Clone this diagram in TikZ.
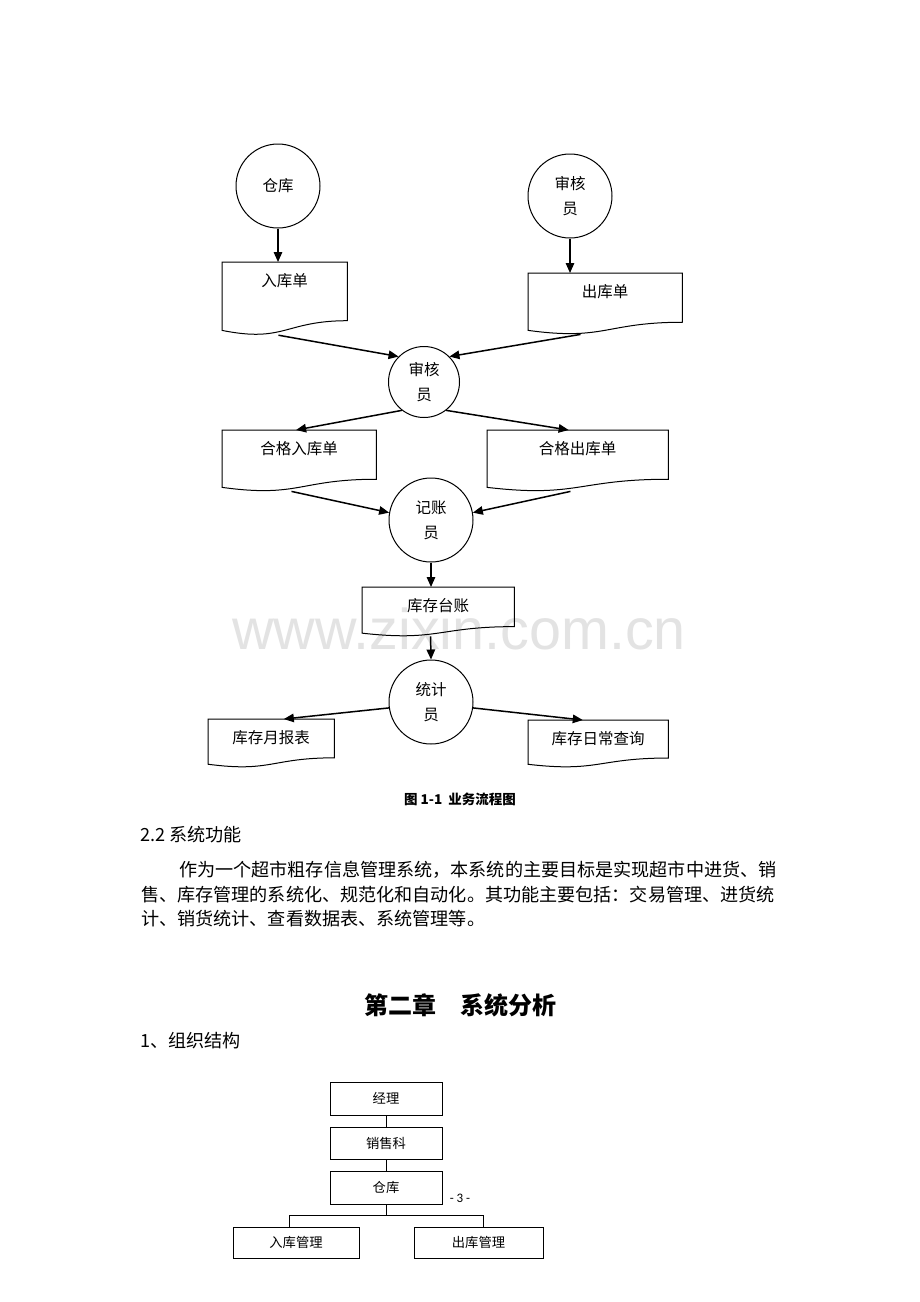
\documentclass[tikz,border=0pt]{standalone}
\usepackage{fontspec}
\newfontfamily\cjk{Noto Sans CJK SC}
\newfontfamily\wmfont{Liberation Sans}
\newfontfamily\pgfont{Carlito}
\usetikzlibrary{calc,arrows.meta}
\tikzset{
  lbl/.style={font=\cjk\fontsize{15.5}{18}\selectfont, inner sep=0pt},
  circ/.style={circle, draw, line width=1pt, minimum size=84pt, inner sep=0pt, align=center, font=\cjk\fontsize{15.5}{25}\selectfont},
  docnode/.style={rectangle, draw=none, inner sep=0pt, anchor=north west},
  docline/.style={line width=1pt},
  arr/.style={line width=1.5pt, -{Triangle[length=10pt,width=8.5pt]}},
  orgbox/.style={rectangle, draw, line width=1pt, inner sep=0pt, font=\cjk\fontsize{13.3}{15}\selectfont},
  orgline/.style={line width=1pt},
  bodytext/.style={font=\cjk\fontsize{18.1}{22}\selectfont, inner sep=0pt, anchor=west},
}
\newcommand{\docshape}[2]{%
  \draw[docline] (#1.north west) -- (#1.north east) -- ($(#1.north east)!0.802!(#1.south east)$)
    .. controls ($(#1.north)!0.802!(#1.south)$) and ($(#1.north)!1.1075!(#1.south)$) ..
    ($(#1.north west)!0.934!(#1.south west)$) -- cycle;
  \node[lbl] (#1-t) at ($(#1.north)+(0,19)$) {#2};
}
\begin{document}
\begin{tikzpicture}[x=1pt,y=-1pt]
\useasboundingbox[fill=white] (0,0) rectangle (920,1302);

% watermark
\node[font=\wmfont\fontsize{57.5}{60}\selectfont, text=black!11, inner sep=0pt, anchor=base] (wm) at (459,649) {www.zixin.com.cn};

% circles
\node[circ] (ck) at (278,186) {仓库};
\node[circ] (shy1) at (570,196) {审核\\员};
\node[circ, minimum size=71pt] (shy2) at (424,382) {审核\\员};
\node[circ] (jzy) at (431,520) {记账\\员};
\node[circ] (tjy) at (431,702) {统计\\员};

% document boxes
\node[docnode, minimum width=125pt, minimum height=72.8pt] (rkd) at (222,262) {};
\node[docnode, minimum width=154pt, minimum height=61pt] (ckd) at (528,273) {};
\node[docnode, minimum width=154pt, minimum height=61pt] (hgr) at (222,430) {};
\node[docnode, minimum width=181pt, minimum height=61pt] (hgc) at (487,430) {};
\node[docnode, minimum width=152pt, minimum height=49pt] (kctz) at (362,587) {};
\node[docnode, minimum width=126pt, minimum height=48pt] (kyb) at (208,719) {};
\node[docnode, minimum width=140pt, minimum height=47pt] (kcr) at (528,720) {};

\docshape{rkd}{入库单}
\docshape{ckd}{出库单}
\docshape{hgr}{合格入库单}
\docshape{hgc}{合格出库单}
\docshape{kctz}{库存台账}
\docshape{kyb}{库存月报表}
\docshape{kcr}{库存日常查询}

% arrows
\draw[arr] (ck.south) -- (ck.south |- rkd.north);
\draw[arr] (shy1.south) -- (shy1.south |- ckd.north);
\draw[arr] ($(rkd.south west)!0.45!(rkd.south east)$) -- (shy2.135);
\draw[arr] ($(ckd.south west)!0.34!(ckd.south east)$) -- (shy2.45);
\draw[arr] (shy2.232) -- ($(hgr.north west)!0.48!(hgr.north east)$);
\draw[arr] (shy2.308) -- ($(hgc.north west)!0.45!(hgc.north east)$);
\draw[arr] ($(hgr.south west)!0.45!(hgr.south east)$) -- (jzy.170);
\draw[arr] ($(hgc.south west)!0.46!(hgc.south east)$) -- (jzy.10);
\draw[arr] (jzy.south) -- (jzy.south |- kctz.north);
\draw[arr] ($(kctz.south west)!0.45!(kctz.south east)$) -- (tjy.north);
\draw[arr] (tjy.188) -- ($(kyb.north west)!0.6!(kyb.north east)$);
\draw[arr] (tjy.352) -- ($(kcr.north west)!0.39!(kcr.north east)$);

% caption
\node[font=\cjk\bfseries\fontsize{13.5}{15}\selectfont, inner sep=0pt] (cap) at (460,799) {图 1-1\ \ 业务流程图};

% section text
\node[bodytext] (sec) at (140,835) {2.2 系统功能};
\node[bodytext] (p1) at (179,870) {作为一个超市粗存信息管理系统，本系统的主要目标是实现超市中进货、销};
\node[bodytext] (p2) at (141,895) {售、库存管理的系统化、规范化和自动化。其功能主要包括：交易管理、进货统};
\node[bodytext] (p3) at (141,919) {计、销货统计、查看数据表、系统管理等。};

\node[font=\cjk\bfseries\fontsize{24}{28}\selectfont, inner sep=0pt] (title) at (460,1005) {第二章　系统分析};
\node[bodytext] (org) at (140,1041) {1、组织结构};

% org chart
\node[orgbox, minimum width=112pt, minimum height=33pt] (jl) at (386,1098.5) {经理};
\node[orgbox, minimum width=112pt, minimum height=32pt] (xsk) at (386,1143) {销售科};
\node[orgbox, minimum width=112pt, minimum height=33pt] (ck2) at (386,1187.5) {仓库};
\node[orgbox, minimum width=126pt, minimum height=31pt] (rkgl) at (296,1242.5) {入库管理};
\node[orgbox, minimum width=129pt, minimum height=31pt] (ckgl) at (478.5,1242.5) {出库管理};
\coordinate (jn) at (386,1215);
\draw[orgline] (jl.south) -- (xsk.north);
\draw[orgline] (xsk.south) -- (ck2.north);
\draw[orgline] (ck2.south) -- (jn);
\draw[orgline] ($(rkgl.north)+(-7,0)$) |- (jn) -| ($(ckgl.north)+(4.5,0)$);

\node[font=\pgfont\fontsize{13}{15}\selectfont, inner sep=0pt] (pg) at (460,1198) {- 3 -};
\end{tikzpicture}
\end{document}
